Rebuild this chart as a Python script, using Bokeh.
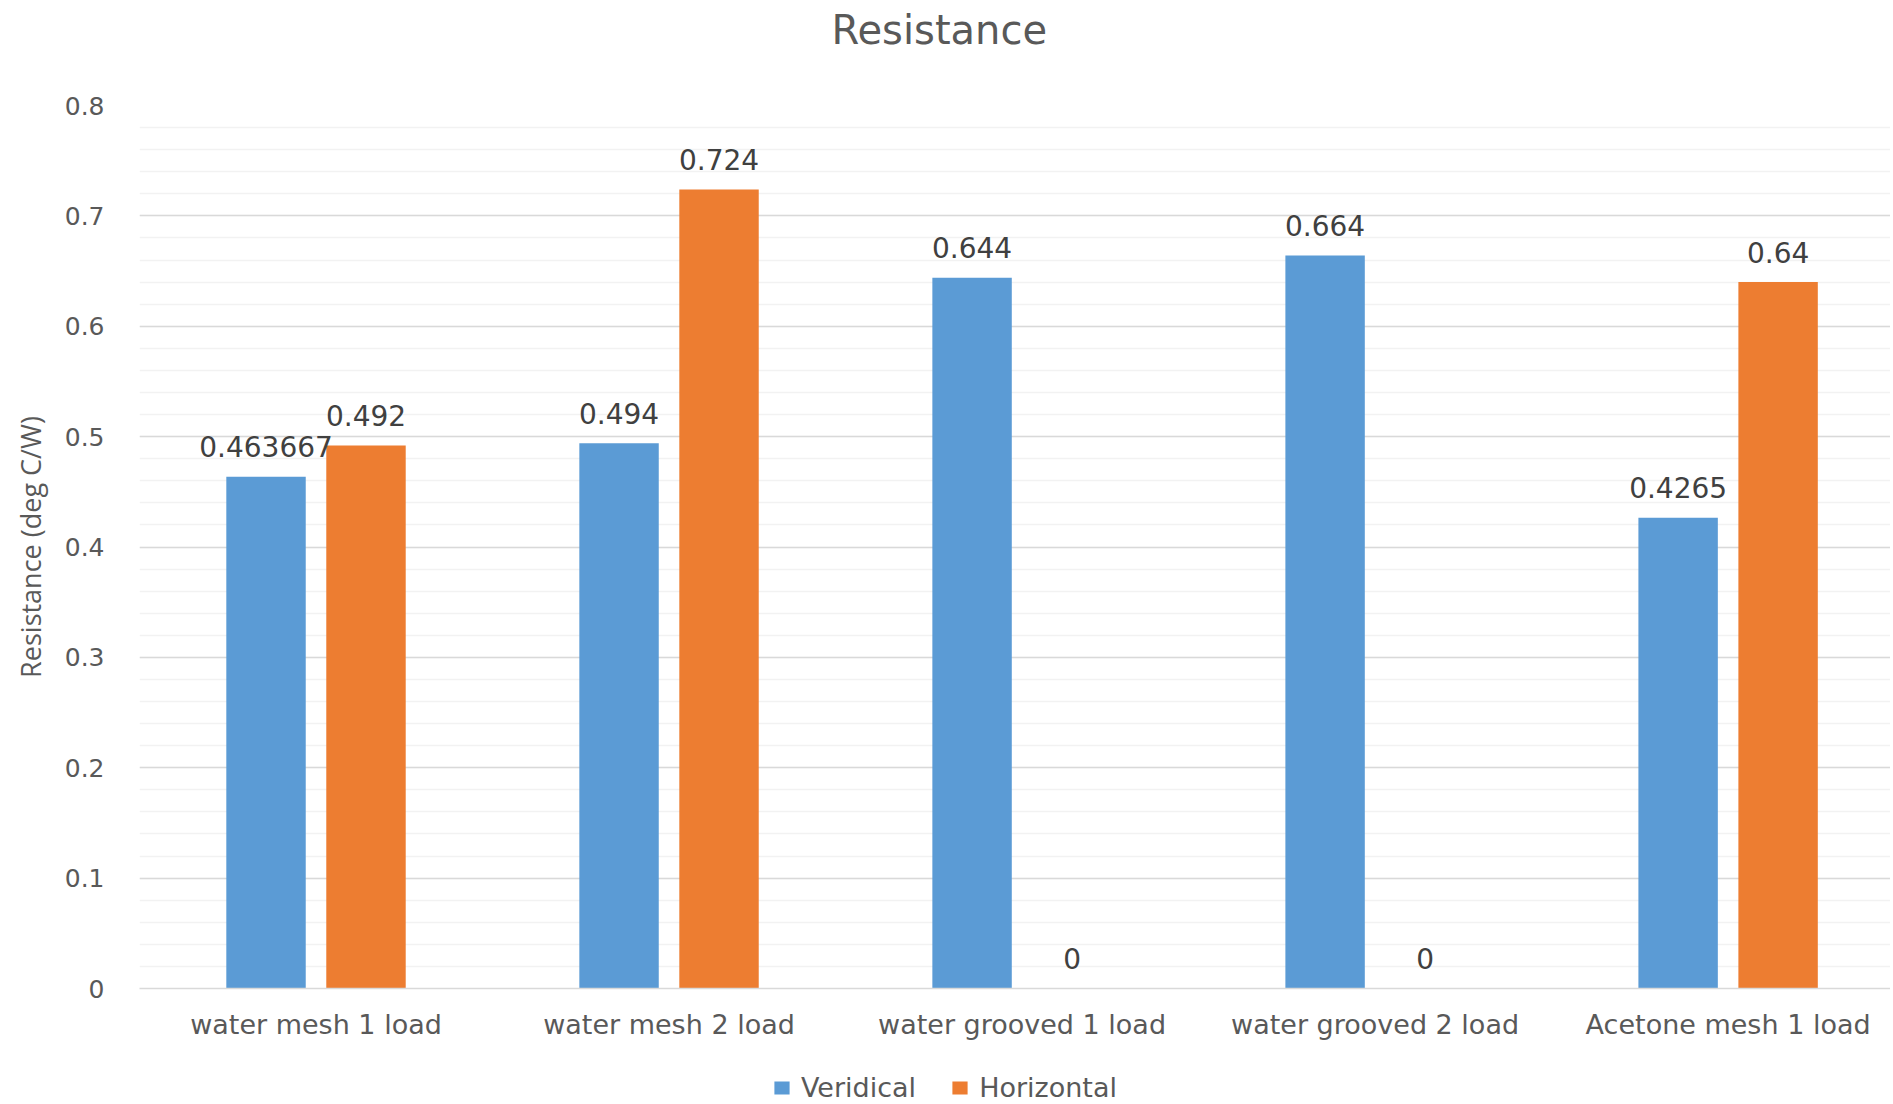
from bokeh.plotting import figure
from bokeh.layouts import column
from bokeh.models import (ColumnDataSource, Range1d, FixedTicker, SingleIntervalTicker,
                          Legend, LegendItem, Title)
from bokeh.transform import dodge
from bokeh.embed import file_html
from bokeh.resources import INLINE
from bokeh.core.properties import value

# ---- data ----
categories = ["water mesh 1 load", "water mesh 2 load", "water grooved 1 load",
              "water grooved 2 load", "Acetone mesh 1 load"]
veridical = [0.463667, 0.494, 0.644, 0.664, 0.4265]
horizontal = [0.492, 0.724, 0.0, 0.0, 0.64]
series_names = ["Veridical", "Horizontal"]
title_text = "Resistance"
y_label = "Resistance (deg C/W)"

# ---- styles ----
BLUE = "#5B9BD5"
ORANGE = "#ED7D31"
TEXT = "#595959"
DATA_TEXT = "#404040"
FONT = "DejaVu Sans"

pos = [i + 0.5 for i in range(len(categories))]
src = ColumnDataSource(dict(
    x=pos, cat=categories, ver=veridical, hor=horizontal,
    ver_lbl=[f"{v:g}" for v in veridical],
    hor_lbl=[f"{v:g}" for v in horizontal],
))

p = figure(frame_width=1751, frame_height=883, output_backend="svg",
           toolbar_location=None,
           x_range=Range1d(0, 4.960), y_range=Range1d(0, 0.8), title=None,
           min_border_left=139, min_border_right=0, min_border_top=105,
           min_border_bottom=50)
p.outline_line_color = None
p.background_fill_color = "white"
p.border_fill_color = "white"

# title (spacer nearest the frame, then the title)
spacer = Title(text=" ", text_font_size="1px", standoff=50)
title = Title(text=title_text, align="left", offset=692, vertical_align="bottom",
              standoff=0, text_font=FONT, text_font_size="40px",
              text_font_style="normal", text_color=TEXT)
p.add_layout(spacer, "above")
p.add_layout(title, "above")

# y axis
yt = SingleIntervalTicker(interval=0.1, num_minor_ticks=5)
p.yaxis.ticker = yt
p.ygrid.ticker = yt
p.yaxis.axis_line_color = None
p.yaxis.major_tick_line_color = None
p.yaxis.minor_tick_line_color = None
p.yaxis.major_tick_out = 0
p.yaxis.major_label_standoff = 31
p.yaxis.major_label_text_font = FONT
p.yaxis.major_label_text_font_size = "25px"
p.yaxis.major_label_text_color = TEXT
p.yaxis.axis_label = y_label
p.yaxis.axis_label_text_font = "Open Sans"
p.yaxis.axis_label_text_font_size = "27px"
p.yaxis.axis_label_text_font_style = "normal"
p.yaxis.axis_label_text_color = TEXT
p.yaxis.axis_label_standoff = 13

p.ygrid.grid_line_color = "#D9D9D9"
p.ygrid.grid_line_width = 1.5
p.ygrid.minor_grid_line_color = "#F2F2F2"
p.ygrid.minor_grid_line_width = 1.5
p.xgrid.visible = False

# x axis
p.xaxis.ticker = FixedTicker(ticks=pos)
p.xaxis.major_label_overrides = {x: c for x, c in zip(pos, categories)}
p.xaxis.axis_line_color = "#D9D9D9"
p.xaxis.axis_line_width = 1.5
p.xaxis.major_tick_line_color = None
p.xaxis.minor_tick_line_color = None
p.xaxis.major_tick_out = 0
p.xaxis.major_label_standoff = 20
p.xaxis.major_label_text_font = FONT
p.xaxis.major_label_text_font_size = "27px"
p.xaxis.major_label_text_color = TEXT

# bars
OFF = 0.1416
W = 0.225
r1 = p.vbar(x=dodge("x", -OFF), top="ver", width=W, source=src,
            fill_color=BLUE, line_color=None)
r2 = p.vbar(x=dodge("x", OFF), top="hor", width=W, source=src,
            fill_color=ORANGE, line_color=None)

# data labels
for off, fld, lbl in ((-OFF, "ver", "ver_lbl"), (OFF, "hor", "hor_lbl")):
    p.text(x=dodge("x", off), y=fld, text=lbl, source=src,
           text_align="center", text_baseline="alphabetic", y_offset=-30,
           text_font=value(FONT), text_font_size="28px", text_color=DATA_TEXT)

# ---- legend strip below the chart (its frame is aligned with the chart's) ----
lg = figure(width=1890, height=62, output_backend="svg", toolbar_location=None,
            x_axis_type=None, y_axis_type=None, min_border=0,
            x_range=Range1d(-3, -2), y_range=Range1d(-3, -2))
lg.outline_line_color = None
lg.background_fill_color = "white"
lg.border_fill_color = "white"
# same series as the chart; their bars lie wholly outside this strip's ranges,
# so only the legend keys show
k1 = lg.vbar(x="x", top="ver", width=W, source=src, fill_color=BLUE, line_color=None)
k2 = lg.vbar(x="x", top="hor", width=W, source=src, fill_color=ORANGE, line_color=None)

legend = Legend(items=[LegendItem(label=series_names[0], renderers=[k1]),
                       LegendItem(label=series_names[1], renderers=[k2])],
                orientation="horizontal", location="left", margin=633,
                padding=0, spacing=34, label_standoff=10,
                glyph_width=19, glyph_height=16,
                title=" ", title_standoff=27, title_text_font_size="1px",
                border_line_color=None, background_fill_alpha=0,
                label_text_font=FONT, label_text_font_size="27px",
                label_text_color=TEXT)
lg.add_layout(legend, "center")

layout = column(p, lg, spacing=0)
open("out.html", "w").write(file_html(layout, INLINE))
